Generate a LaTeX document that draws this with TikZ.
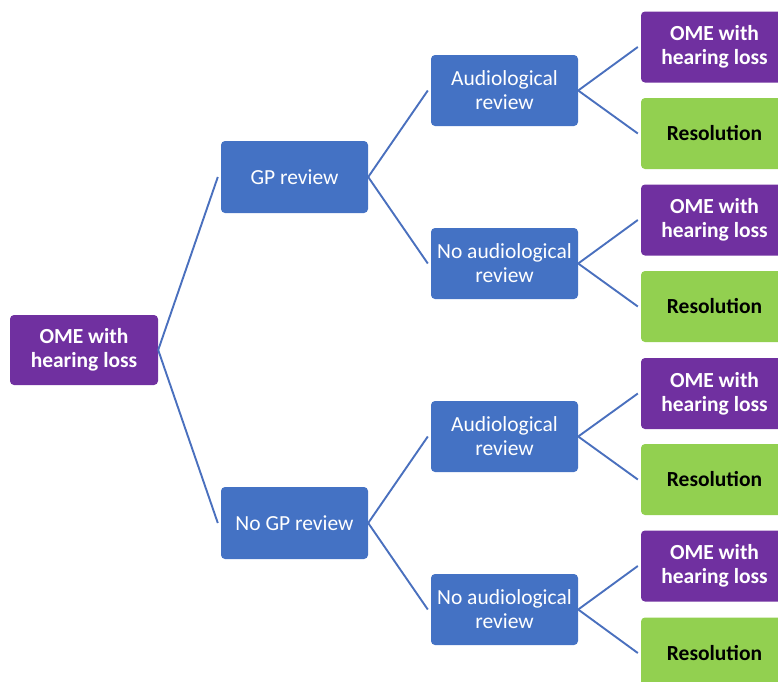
\documentclass[tikz,border=0pt]{standalone}
\usepackage{fontspec}
\setmainfont{Carlito}
\definecolor{boxblue}{HTML}{4472C4}
\definecolor{boxpurple}{HTML}{7030A0}
\definecolor{boxgreen}{HTML}{92D050}
\definecolor{linkblue}{HTML}{4A70BE}
\begin{document}
\begin{tikzpicture}[x=1pt,y=-1pt,
  box/.style={rectangle, rounded corners=4pt, minimum width=147pt, minimum height=71pt,
    inner sep=0pt, align=center, font=\fontsize{21.5}{24}\selectfont},
  stage/.style={box, fill=boxblue, text=white},
  outcome/.style={box, fill=boxpurple, text=white, font=\fontsize{21.5}{24}\selectfont\bfseries},
  resolved/.style={box, fill=boxgreen, text=black, font=\fontsize{21.5}{24}\selectfont\bfseries},
  link/.style={draw=linkblue, line width=1.9pt}]
\useasboundingbox (0,0) rectangle (778,681);
\clip (0,0) rectangle (778,681);
% root
\node[outcome, minimum width=148pt, minimum height=70pt] (root) at (84,350) {OME with\\hearing loss};
% GP level
\node[stage, minimum height=72pt] (gp) at (294.5,177) {GP review};
\node[stage, minimum height=72pt] (nogp) at (294.5,523) {No GP review};
% audiology level
\node[stage] (a1) at (504.5,90.5) {Audiological\\review};
\node[stage] (na1) at (504.5,263.5) {No audiological\\review};
\node[stage] (a2) at (504.5,436.5) {Audiological\\review};
\node[stage] (na2) at (504.5,609.5) {No audiological\\review};
% outcomes
\node[outcome] (o1) at (714.5,47) {OME with\\hearing loss};
\node[resolved] (r1) at (714.5,133.5) {Resolution};
\node[outcome] (o2) at (714.5,220) {OME with\\hearing loss};
\node[resolved] (r2) at (714.5,306.5) {Resolution};
\node[outcome] (o3) at (714.5,393.5) {OME with\\hearing loss};
\node[resolved] (r3) at (714.5,479.5) {Resolution};
\node[outcome] (o4) at (714.5,566) {OME with\\hearing loss};
\node[resolved] (r4) at (714.5,653) {Resolution};
% connectors
\foreach \p/\c in {root/gp, root/nogp, gp/a1, gp/na1, nogp/a2, nogp/na2,
                   a1/o1, a1/r1, na1/o2, na1/r2, a2/o3, a2/r3, na2/o4, na2/r4}
  \draw[link] (\p.east) -- ([xshift=-3pt]\c.west);
\end{tikzpicture}
\end{document}
